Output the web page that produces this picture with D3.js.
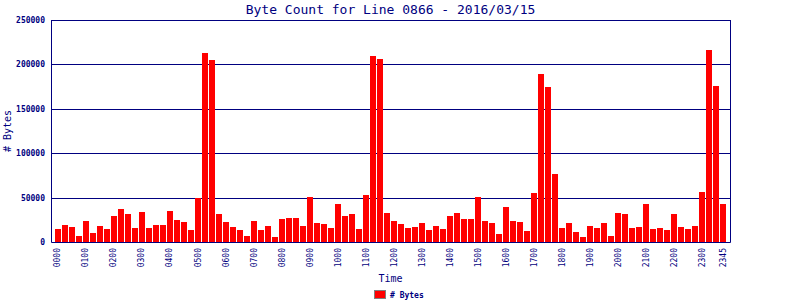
<!DOCTYPE html>
<html>
<head>
<meta charset="utf-8">
<script src="https://cdn.jsdelivr.net/npm/d3@7"></script>
<style>
  body { margin: 0; background: #fff; }
  svg { display: block; }
  text { font-family: "DejaVu Sans Mono", monospace; fill: #000080; }
</style>
</head>
<body>
<div id="chart"></div>
<script>
// 15 minute slots for the day, 0000 .. 2345
const times = d3.range(96).map(i => d3.format("02d")(Math.floor(i / 4)) + d3.format("02d")((i % 4) * 15));

const byteCounts = [
    15000, 19500, 17250, 7100, 24000, 10500, 18400, 15000,
    29600, 37500, 31900, 16100, 34100, 16100, 19500, 19500,
    35250, 25100, 22900, 13900, 49900, 213000, 205100, 31900,
    22900, 17250, 13900, 7100, 24000, 13900, 18400, 6000,
    26250, 27400, 27400, 18400, 51000, 21750, 20600, 16100,
    43100, 29600, 31900, 15000, 53250, 209600, 206250, 33000,
    24000, 20600, 16100, 17250, 21750, 13900, 18400, 15000,
    29600, 33000, 26250, 26250, 51000, 24000, 21750, 9400,
    39750, 24000, 22900, 12750, 55500, 189400, 174750, 76900,
    16100, 21750, 11600, 6000, 18400, 16100, 21750, 7100,
    33000, 31900, 16100, 17250, 43100, 15000, 16100, 13900,
    31900, 17250, 15000, 18400, 56600, 216400, 175900, 43100
];

const xTickLabels = ["0000", "0100", "0200", "0300", "0400", "0500", "0600", "0700",
    "0800", "0900", "1000", "1100", "1200", "1300", "1400", "1500", "1600", "1700",
    "1800", "1900", "2000", "2100", "2200", "2300", "2345"];
const yTicks = [0, 50000, 100000, 150000, 200000, 250000];

const width = 800, height = 300;
const plot = { left: 51, right: 730, top: 20, bottom: 242 };

const svg = d3.select("#chart").append("svg")
    .attr("width", width)
    .attr("height", height);

const x = d3.scaleBand()
    .domain(times)
    .range([plot.left, plot.right])
    .paddingInner(0.14)
    .paddingOuter(0.5);

const y = d3.scaleLinear()
    .domain([0, 250000])
    .range([plot.bottom, plot.top]);

// title
svg.append("text")
    .attr("x", (plot.left + plot.right) / 2)
    .attr("y", 14)
    .attr("text-anchor", "middle")
    .style("font-size", "13px")
    .text("Byte Count for Line 0866 - 2016/03/15");

// grid lines
svg.selectAll(".grid")
    .data(yTicks.filter(d => d > 0))
    .enter().append("line")
    .attr("class", "grid")
    .attr("x1", plot.left)
    .attr("x2", plot.right)
    .attr("y1", d => Math.round(y(d)) + 0.5)
    .attr("y2", d => Math.round(y(d)) + 0.5)
    .style("stroke", "#000080")
    .style("stroke-width", 1);

// bars
svg.selectAll(".bar")
    .data(byteCounts)
    .enter().append("rect")
    .attr("class", "bar")
    .attr("x", (d, i) => Math.round(x(times[i])))
    .attr("y", d => Math.round(y(d)))
    .attr("width", 6)
    .attr("height", d => plot.bottom - Math.round(y(d)))
    .style("fill", "#ff0000");

// frame: left, bottom, right axis lines
svg.append("path")
    .attr("d", "M" + (plot.left + 0.5) + "," + plot.top + "V" + (plot.bottom + 0.5) + "H" + (plot.right + 0.5) + "V" + plot.top)
    .style("fill", "none")
    .style("stroke", "#000080")
    .style("stroke-width", 1);

// y axis labels
const yAxis = d3.axisLeft(y)
    .tickValues(yTicks)
    .tickSize(0)
    .tickPadding(6)
    .tickFormat(d3.format("d"));

svg.append("g")
    .attr("transform", "translate(" + plot.left + ",0)")
    .call(yAxis)
    .call(g => g.select(".domain").remove())
    .selectAll("text")
    .style("font-size", "8px")
    .style("font-weight", "bold")
    .style("fill", "#000080");

// x axis labels, rotated
const xAxis = d3.axisBottom(x)
    .tickValues(times.filter(t => xTickLabels.includes(t)))
    .tickSize(0)
    .tickPadding(0);

svg.append("g")
    .attr("transform", "translate(0," + plot.bottom + ")")
    .call(xAxis)
    .call(g => g.select(".domain").remove())
    .selectAll("text")
    .attr("transform", "rotate(-90)")
    .attr("x", -6)
    .attr("y", 0)
    .attr("dy", "0.35em")
    .style("text-anchor", "end")
    .style("font-size", "8px")
    .style("fill", "#000080");

// axis titles
svg.append("text")
    .attr("x", (plot.left + plot.right) / 2)
    .attr("y", 282)
    .attr("text-anchor", "middle")
    .style("font-size", "10px")
    .text("Time");

svg.append("text")
    .attr("transform", "translate(11," + (plot.top + plot.bottom) / 2 + ") rotate(-90)")
    .attr("text-anchor", "middle")
    .style("font-size", "10px")
    .text("# Bytes");

// legend
svg.append("rect")
    .attr("x", 374.5)
    .attr("y", 290.5)
    .attr("width", 11)
    .attr("height", 8)
    .style("fill", "#ff0000")
    .style("stroke", "#808080");

svg.append("text")
    .attr("x", 390)
    .attr("y", 298)
    .style("font-size", "8px")
    .style("font-weight", "bold")
    .text("# Bytes");
</script>
</body>
</html>
